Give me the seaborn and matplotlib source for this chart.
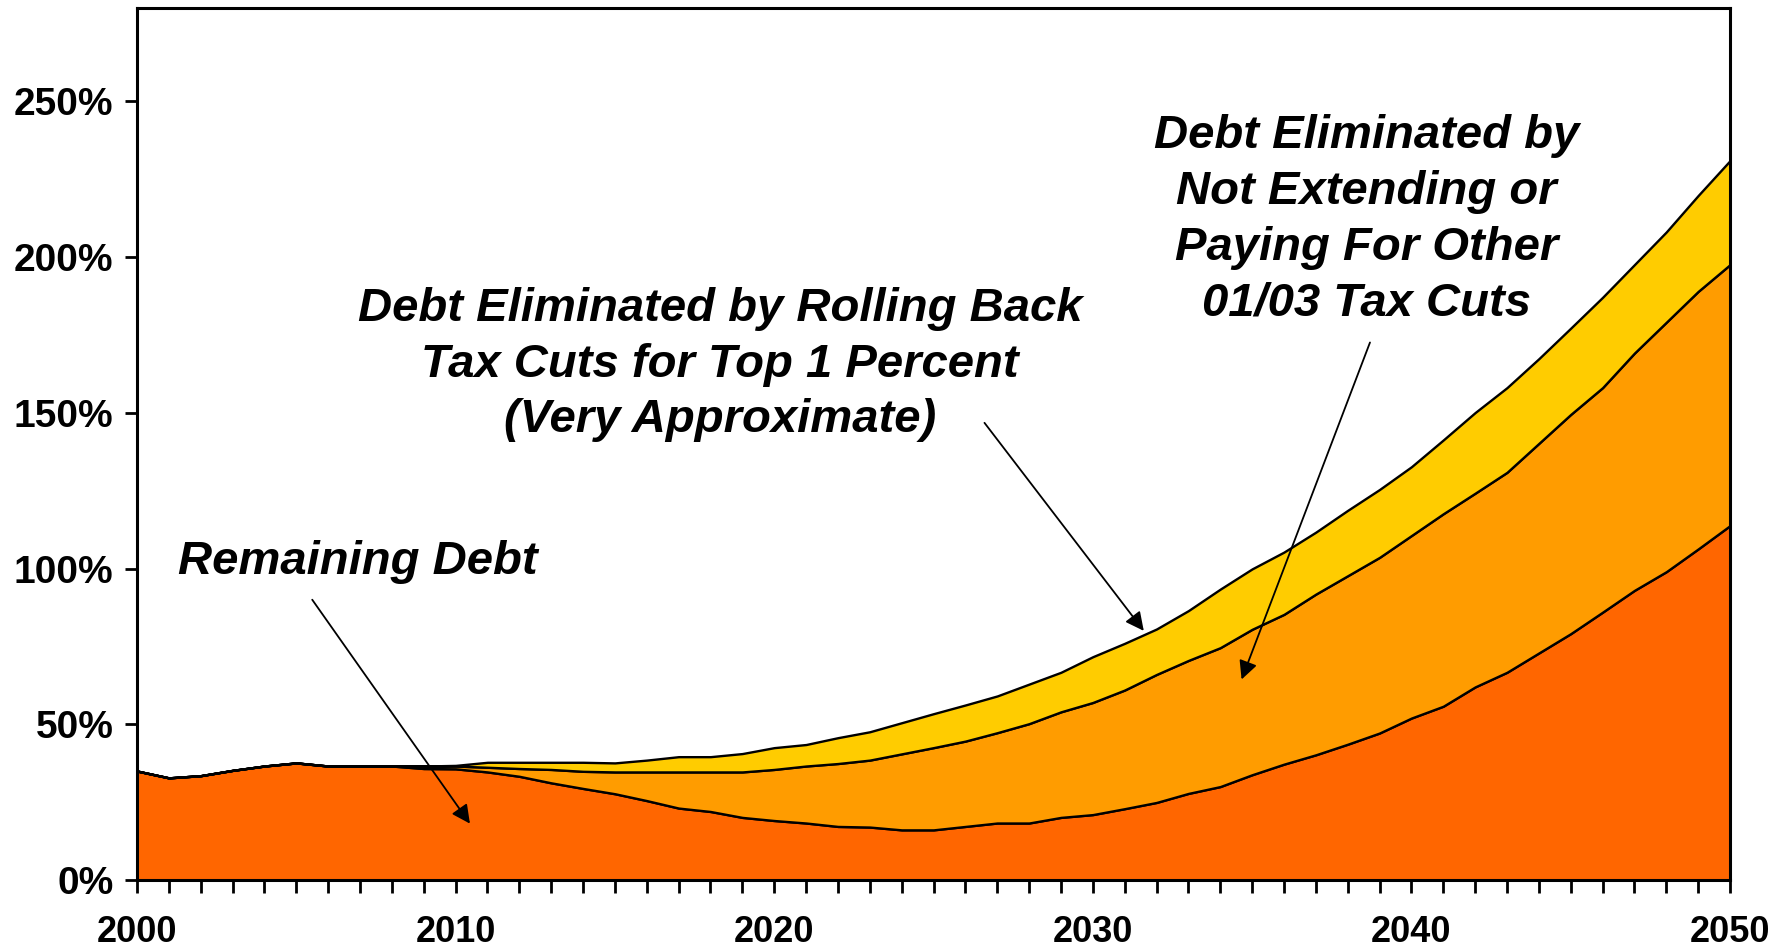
import matplotlib
matplotlib.use("Agg")
import matplotlib.pyplot as plt
import seaborn as sns
import numpy as np

# ---- data (percent of GDP) ----
years = list(range(2000, 2051))
remaining_debt = [35.0, 32.8, 33.5, 35.2, 36.6, 37.6, 36.6, 36.6, 36.6, 35.8,
                  35.7, 34.7, 33.3, 31.2, 29.4, 27.7, 25.5, 23.1, 22.0, 20.1,
                  19.1, 18.3, 17.2, 17.0, 16.1, 16.1, 17.2, 18.3, 18.3, 20.1,
                  21.0, 22.9, 24.9, 27.8, 30.0, 33.8, 37.2, 40.2, 43.6, 47.2,
                  52.0, 55.8, 62.0, 66.7, 72.9, 79.1, 86.0, 93.0, 99.0, 106.3,
                  113.8]
other_tax_cuts = [0, 0, 0, 0, 0, 0, 0, 0, 0, 0.8,
                  0.9, 1.5, 2.5, 4.3, 5.5, 7.0, 9.2, 11.6, 12.7, 14.6,
                  16.4, 18.3, 20.2, 21.5, 24.4, 26.4, 27.4, 29.0, 31.9, 33.9,
                  36.0, 38.1, 41.1, 42.7, 44.6, 46.7, 48.1, 51.6, 54.1, 56.4,
                  58.6, 61.8, 62.2, 64.2, 67.3, 70.4, 72.1, 76.2, 80.1, 82.7,
                  83.8]
top1_tax_cuts = [0, 0, 0, 0, 0, 0, 0, 0, 0, 0,
                 0.2, 1.6, 2.0, 2.3, 2.9, 2.9, 3.8, 4.9, 4.9, 5.9,
                 7.0, 6.9, 8.3, 9.1, 10.0, 10.9, 11.6, 11.8, 12.7, 12.7,
                 14.7, 15.0, 14.6, 16.0, 18.8, 19.4, 20.0, 19.9, 21.0, 21.8,
                 22.1, 23.7, 25.9, 27.2, 27.2, 27.7, 29.0, 28.4, 29.0, 30.8,
                 33.4]

x_major_ticks = [2000, 2010, 2020, 2030, 2040, 2050]
x_tick_labels = ["2000", "2010", "2020", "2030", "2040", "2050"]
y_ticks = [0, 50, 100, 150, 200, 250]
y_tick_labels = ["0%", "50%", "100%", "150%", "200%", "250%"]

label_remaining = "Remaining Debt"
label_top1 = "Debt Eliminated by Rolling Back\nTax Cuts for Top 1 Percent\n(Very Approximate)"
label_other = "Debt Eliminated by\nNot Extending or\nPaying For Other\n01/03 Tax Cuts"

colors = ["#FF6600", "#FF9C00", "#FFCC00"]

# ---- style ----
sns.set_theme(style="white")
plt.rcParams["font.family"] = ["Liberation Sans", "DejaVu Sans"]

fig = plt.figure(figsize=(17.85, 9.52), dpi=100)
ax = fig.add_axes([137 / 1785, 72 / 952, 1593 / 1785, 872 / 952])

ax.stackplot(years, remaining_debt, other_tax_cuts, top1_tax_cuts,
             colors=colors, edgecolor="black", linewidth=1.7)

ax.set_xlim(2000, 2050)
ax.set_ylim(0, 280)

ax.set_xticks(x_major_ticks)
ax.set_xticklabels(x_tick_labels)
ax.set_xticks(years, minor=True)
ax.set_yticks(y_ticks)
ax.set_yticklabels(y_tick_labels)

for sp in ax.spines.values():
    sp.set_color("black")
    sp.set_linewidth(2.2)
    sp.set_visible(True)

ax.tick_params(axis="x", which="both", direction="out", length=9, width=2,
               color="black", bottom=True)
ax.tick_params(axis="x", which="major", pad=16, labelsize=26)
ax.tick_params(axis="y", which="major", direction="out", length=9, width=2,
               color="black", left=True, pad=8, labelsize=28)
for lab in ax.get_xticklabels() + ax.get_yticklabels():
    lab.set_fontweight("bold")
    lab.set_color("black")

ax.grid(False)

# ---- annotations ----
txt_kw = dict(fontsize=34, fontweight="bold", fontstyle="italic", color="black")
arrow_kw = dict(arrowstyle="-|>", color="black", lw=1.3, mutation_scale=28,
                shrinkA=0, shrinkB=0)

ax.text(2001.3, 102, label_remaining, ha="left", va="center", **txt_kw)
ax.annotate("", xy=(2010.45, 18.1), xytext=(2005.5, 90), arrowprops=arrow_kw)

ax.text(2018.3, 165.5, label_top1, ha="center", va="center",
        linespacing=1.33, **txt_kw)
ax.annotate("", xy=(2031.6, 80), xytext=(2026.6, 146.8), arrowprops=arrow_kw)

ax.text(2038.6, 212, label_other, ha="center", va="center",
        linespacing=1.34, **txt_kw)
ax.annotate("", xy=(2034.67, 64.4), xytext=(2038.7, 172.6), arrowprops=arrow_kw)

fig.savefig("out.png", dpi=100, facecolor="white")
